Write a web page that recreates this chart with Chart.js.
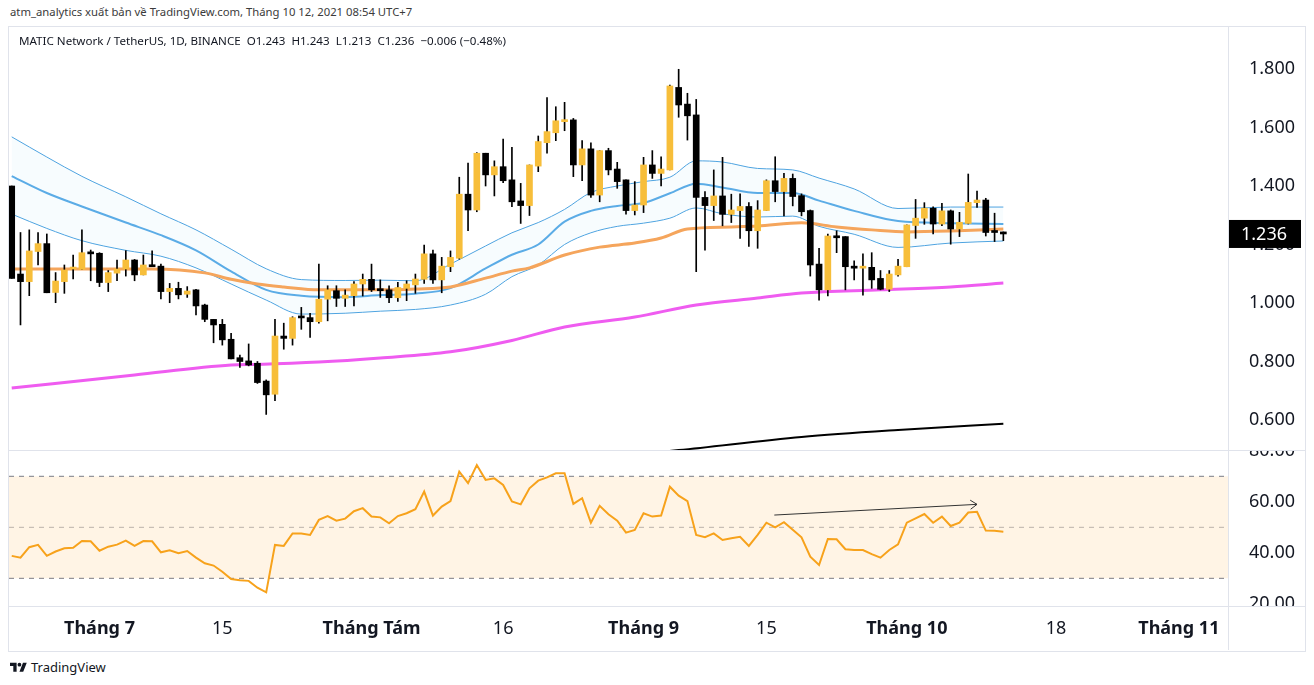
<!DOCTYPE html>
<html>
<head>
<meta charset="utf-8">
<script src="https://cdn.jsdelivr.net/npm/chart.js@4.4.1/dist/chart.umd.min.js"></script>
<style>
  body { margin: 0; background: #fff; width: 1314px; height: 685px; position: relative; overflow: hidden; font-family: "Noto Sans", sans-serif; color: #131722; }
  .abs { position: absolute; }
  #hdr { left: 10px; top: 4px; font-size: 11.3px; color: #3b3b3b; white-space: nowrap; }
  #frame { left: 8px; top: 26px; width: 1296px; height: 624px; border: 1px solid #e0e3eb; }
  #legend { left: 19px; top: 33px; font-size: 11.6px; white-space: nowrap; }
  .hline { height: 1px; background: #e0e3eb; }
  .vline { width: 1px; background: #e0e3eb; }
  #foot { left: 10px; top: 658px; font-size: 13px; display: flex; align-items: center; gap: 4px; }
</style>
</head>
<body>
<div id="hdr" class="abs">atm_analytics xuất bản về TradingView.com, Tháng 10 12, 2021 08:54 UTC+7</div>
<div id="frame" class="abs"></div>
<canvas id="price" class="abs" width="1296" height="423" style="left:9px;top:27px"></canvas>
<canvas id="rsi" class="abs" width="1296" height="199" style="left:9px;top:451px"></canvas>
<div class="abs hline" style="left:9px;top:450px;width:1296px"></div>
<div class="abs hline" style="left:9px;top:606px;width:1296px"></div>
<div class="abs vline" style="left:1228px;top:27px;height:623px"></div>
<div class="abs" style="left:1229px;top:607px;width:76px;height:43px;background:#fff"></div>
<div id="legend" class="abs">MATIC Network / TetherUS, 1D, BINANCE&nbsp; O1.243&nbsp; H1.243&nbsp; L1.213&nbsp; C1.236&nbsp; −0.006 (−0.48%)</div>
<div id="foot" class="abs">
  <svg width="17" height="12" viewBox="0 0 36 24"><path d="M14 22H7V10H0V3h14v19zM28 22h-8l7.5-19h8L28 22z" fill="#131722"/><circle cx="20" cy="7" r="4" fill="#131722"/></svg>
  <span>TradingView</span>
</div>

<script>
// daily candles, index 0 = 21 Jun 2021 ... 113 = 12 Oct 2021
const openP = [1.400,1.099,1.073,1.176,1.203,1.036,1.073,1.116,1.115,1.172,
  1.170,1.070,1.102,1.116,1.147,1.096,1.128,1.126,1.039,1.050,
  1.030,1.045,0.993,0.944,0.927,0.876,0.813,0.802,0.794,0.733,
  0.688,0.887,0.879,0.951,0.950,0.936,1.013,1.042,1.016,1.025,
  1.065,1.081,1.047,1.045,1.018,1.050,1.062,1.081,1.168,1.079,
  1.124,1.153,1.372,1.318,1.512,1.438,1.466,1.421,1.349,1.333,
  1.468,1.548,1.582,1.620,1.626,1.472,1.527,1.369,1.521,1.458,
  1.421,1.316,1.335,1.472,1.443,1.455,1.737,1.680,1.643,1.361,
  1.333,1.366,1.303,1.316,1.330,1.247,1.316,1.418,1.381,1.426,
  1.367,1.316,1.133,1.045,1.229,1.227,1.126,1.119,1.122,1.084,
  1.047,1.096,1.124,1.265,1.290,1.324,1.270,1.315,1.253,1.272,
  1.343,1.352,1.244,1.243];
const highP = [1.400,1.241,1.250,1.241,1.236,1.104,1.130,1.164,1.250,1.181,
  1.172,1.111,1.147,1.179,1.149,1.164,1.178,1.133,1.067,1.071,
  1.056,1.047,0.996,0.944,0.944,0.896,0.822,0.860,0.800,0.737,
  0.944,0.931,0.953,0.985,0.965,1.133,1.059,1.059,1.045,1.073,
  1.099,1.133,1.079,1.059,1.071,1.076,1.099,1.198,1.181,1.156,
  1.178,1.430,1.478,1.514,1.512,1.486,1.560,1.532,1.409,1.472,
  1.571,1.702,1.671,1.686,1.631,1.555,1.548,1.521,1.529,1.481,
  1.421,1.415,1.498,1.521,1.500,1.745,1.799,1.717,1.696,1.381,
  1.455,1.498,1.372,1.373,1.343,1.350,1.421,1.500,1.443,1.441,
  1.373,1.318,1.187,1.236,1.247,1.227,1.144,1.168,1.172,1.111,
  1.111,1.149,1.267,1.354,1.343,1.329,1.341,1.318,1.310,1.441,
  1.383,1.358,1.307,1.243];
const lowP = [1.084,0.925,1.025,1.130,1.035,1.001,1.033,1.082,1.115,1.076,
  1.056,1.039,1.076,1.092,1.076,1.096,1.124,1.014,1.001,1.014,
  1.019,0.959,0.936,0.864,0.856,0.809,0.780,0.785,0.725,0.619,
  0.666,0.842,0.856,0.910,0.882,0.931,0.939,0.988,0.988,0.990,
  1.024,1.039,1.019,1.001,1.005,1.008,1.033,1.067,1.067,1.035,
  1.107,1.150,1.247,1.312,1.400,1.366,1.411,1.329,1.272,1.299,
  1.449,1.512,1.555,1.589,1.432,1.418,1.361,1.346,1.438,1.392,
  1.304,1.301,1.309,1.426,1.400,1.455,1.635,1.557,1.107,1.181,
  1.282,1.264,1.275,1.221,1.193,1.187,1.316,1.346,1.298,1.332,
  1.298,1.092,1.010,1.024,1.172,1.045,1.079,1.027,1.050,1.045,
  1.039,1.092,1.124,1.221,1.269,1.236,1.264,1.201,1.227,1.270,
  1.327,1.229,1.210,1.213];
const closeP = [1.084,1.073,1.178,1.203,1.035,1.075,1.113,1.117,1.172,1.168,
  1.070,1.104,1.116,1.147,1.096,1.130,1.124,1.039,1.050,1.028,
  1.041,0.990,0.944,0.925,0.874,0.809,0.800,0.788,0.728,0.686,
  0.887,0.879,0.950,0.949,0.936,1.013,1.045,1.016,1.027,1.065,
  1.081,1.045,1.042,1.018,1.053,1.065,1.082,1.168,1.079,1.126,
  1.156,1.372,1.318,1.512,1.438,1.466,1.418,1.346,1.333,1.472,
  1.552,1.586,1.623,1.626,1.472,1.527,1.369,1.521,1.455,1.415,
  1.316,1.335,1.472,1.443,1.458,1.742,1.677,1.640,1.361,1.333,
  1.366,1.303,1.318,1.330,1.247,1.318,1.418,1.381,1.426,1.364,
  1.312,1.130,1.045,1.229,1.223,1.124,1.119,1.122,1.079,1.047,
  1.099,1.126,1.267,1.290,1.324,1.270,1.315,1.253,1.276,1.344,
  1.352,1.241,1.241,1.236];

// channel lines (upper / middle / lower), read at these candle indices
const bandIdx = [0,4,8,13,17,21,25,29,33,38,42,46,50,54,57,60,63,66,69,72,75,78,81,85,89,92,96,101,107,113];
const bandUpper = [1.568,1.499,1.433,1.363,1.305,1.250,1.184,1.117,1.080,1.077,1.078,1.076,1.133,1.195,1.240,1.275,1.320,1.378,1.400,1.415,1.430,1.486,1.482,1.460,1.455,1.427,1.390,1.323,1.328,1.328];
const bandMid = [1.434,1.376,1.330,1.275,1.232,1.180,1.108,1.045,1.025,1.020,1.027,1.032,1.051,1.118,1.165,1.200,1.278,1.315,1.332,1.342,1.375,1.408,1.395,1.376,1.376,1.350,1.315,1.280,1.273,1.270];
const bandLower = [1.304,1.255,1.213,1.180,1.160,1.120,1.065,1.010,0.962,0.965,0.972,0.978,0.993,1.030,1.090,1.130,1.200,1.240,1.262,1.273,1.290,1.325,1.305,1.294,1.297,1.262,1.235,1.190,1.205,1.212];

// moving averages
const maOrangeIdx = [0,10,16,22,25,28,31,35,39,42,46,50,54,57,59,63,67,71,74,77,82,85,90,94,98,102,107,113];
const maOrange = [1.116,1.116,1.116,1.103,1.081,1.065,1.055,1.045,1.045,1.045,1.048,1.055,1.085,1.109,1.120,1.164,1.191,1.205,1.222,1.253,1.260,1.263,1.274,1.260,1.250,1.243,1.246,1.253];
const maPinkIdx = [0,14,25,28,35,42,50,57,63,71,78,85,90,99,107,113];
const maPink = [0.709,0.754,0.788,0.790,0.798,0.812,0.833,0.872,0.918,0.952,0.993,1.017,1.034,1.045,1.055,1.068];
const maBlackIdx = [70,76,90,101,113];
const maBlack = [0.480,0.497,0.542,0.566,0.587];

// RSI, one value per candle
const rsi = [38.8,38.1,42.2,43.1,38.8,40.5,41.8,42.0,44.6,44.5,
  40.8,42.4,43.2,44.8,42.7,44.6,44.5,40.2,41.0,39.8,
  40.7,38.1,35.9,35.0,32.6,29.7,29.2,29.0,26.3,24.5,
  43.1,42.7,47.6,47.6,47.0,52.9,54.4,52.6,53.4,56.3,
  57.5,54.2,53.9,51.6,54.4,55.5,57.1,64.0,54.6,58.1,
  60.3,71.8,67.3,74.4,68.6,69.2,66.6,60.1,59.0,65.3,
  68.3,69.6,71.2,71.2,59.2,61.4,51.8,58.4,55.1,52.6,
  47.9,49.0,55.5,54.2,54.6,65.9,62.4,60.3,47.0,46.1,
  47.6,45.0,45.7,46.3,42.7,47.0,51.8,50.0,52.0,49.0,
  46.1,38.5,35.2,45.4,45.3,41.4,41.1,41.1,39.5,38.1,
  41.1,43.3,51.8,53.5,55.2,51.8,54.2,50.5,51.8,55.8,
  56.1,48.7,48.6,48.3];
const rsiLevels = [70, 50, 30];
const trendIdx = [86.9, 110];
const trendVal = [54.8, 59.0];

// axis labels
const xTickIdx = [10, 24, 41, 56, 72, 86, 102, 119, 133];
const xTickLabels = ["Tháng 7", "15", "Tháng Tám", "16", "Tháng 9", "15", "Tháng 10", "18", "Tháng 11"];
const xTickBold = [true, false, true, false, true, false, true, false, true];
const priceTicks = [0.6, 0.8, 1.0, 1.2, 1.4, 1.6, 1.8];
const rsiTicks = [20, 40, 60, 80];

const X_MIN = -0.31, X_MAX = 138.6;
const FONT = "Noto Sans";
const UP = "#f7be3a", DOWN = "#000000";

const idx = openP.map((_, i) => i);
const pts = (xs, ys) => xs.map((x, k) => ({ x: x, y: ys[k] }));
const candleColor = idx.map(i => closeP[i] >= openP[i] ? UP : DOWN);

function lineDs(data, color, width, order, extra) {
  return Object.assign({
    type: "line", data: data, borderColor: color, borderWidth: width,
    pointRadius: 0, cubicInterpolationMode: "monotone", fill: false, order: order
  }, extra || {});
}

const lastPricePlugin = {
  id: "lastPrice",
  afterDraw(chart) {
    const ctx = chart.ctx, y = chart.scales.y.getPixelForValue(closeP[closeP.length - 1]);
    const x0 = chart.chartArea.right + 1;
    ctx.save();
    ctx.fillStyle = "#000";
    ctx.fillRect(x0, y - 14, 72, 28);
    ctx.fillStyle = "#fff";
    ctx.font = "18px " + FONT;
    ctx.textBaseline = "middle";
    ctx.fillText(closeP[closeP.length - 1].toFixed(3), x0 + 12, y + 1);
    ctx.restore();
  }
};

new Chart(document.getElementById("price"), {
  type: "bar",
  data: {
    datasets: [
      { type: "bar", data: idx.map(i => ({ x: i, y: [lowP[i], highP[i]] })), backgroundColor: "#000", barThickness: 1, grouped: false, order: 1 },
      { type: "bar", data: idx.map(i => ({ x: i, y: [openP[i], closeP[i]] })), backgroundColor: candleColor, barThickness: 6, minBarLength: 2, grouped: false, order: 0 },
      lineDs(pts(bandIdx, bandUpper), "#4ea3e0", 1, 3, { fill: { target: 4 }, backgroundColor: "rgba(120, 200, 240, 0.06)" }),
      lineDs(pts(bandIdx, bandMid), "#5aaae6", 2, 3),
      lineDs(pts(bandIdx, bandLower), "#4ea3e0", 1, 3),
      lineDs(pts(maOrangeIdx, maOrange), "#f5a55c", 3, 2),
      lineDs(pts(maPinkIdx, maPink), "#ef5cf0", 3, 2),
      lineDs(pts(maBlackIdx, maBlack), "#000000", 2, 2)
    ]
  },
  options: {
    responsive: false,
    animation: false,
    events: [],
    layout: { padding: 0 },
    plugins: { legend: { display: false }, tooltip: { enabled: false } },
    scales: {
      x: { type: "linear", min: X_MIN, max: X_MAX, offset: false, display: false },
      y: {
        position: "right", min: 0.4974, max: 1.9436, beginAtZero: false,
        grid: { display: false }, border: { display: false },
        afterBuildTicks: s => { s.ticks = priceTicks.map(v => ({ value: v })); },
        afterFit: s => { s.width = 77; s.paddingTop = 0; s.paddingBottom = 0; },
        ticks: { padding: 13, color: "#131722", font: { family: FONT, size: 18 }, callback: v => v.toFixed(3) }
      }
    }
  },
  plugins: [lastPricePlugin]
});

const arrowPlugin = {
  id: "arrowHead",
  afterDatasetsDraw(chart) {
    const el = chart.getDatasetMeta(4).data;
    const a = el[el.length - 2], b = el[el.length - 1];
    const ang = Math.atan2(b.y - a.y, b.x - a.x), len = 8, spread = 0.6;
    const ctx = chart.ctx;
    ctx.save();
    ctx.strokeStyle = "#333";
    ctx.lineWidth = 1;
    ctx.beginPath();
    ctx.moveTo(b.x - len * Math.cos(ang - spread), b.y - len * Math.sin(ang - spread));
    ctx.lineTo(b.x, b.y);
    ctx.lineTo(b.x - len * Math.cos(ang + spread), b.y - len * Math.sin(ang + spread));
    ctx.stroke();
    ctx.restore();
  }
};

const levelLine = (v, color, extra) => Object.assign({
  data: [{ x: X_MIN, y: v }, { x: X_MAX, y: v }], borderColor: color, borderWidth: 1,
  borderDash: [5, 5], pointRadius: 0, fill: false, order: 5
}, extra || {});

new Chart(document.getElementById("rsi"), {
  type: "line",
  data: {
    datasets: [
      { data: pts(idx, rsi), borderColor: "#f7a21b", borderWidth: 2, pointRadius: 0, fill: false, order: 0 },
      levelLine(rsiLevels[0], "#787b86", { fill: { target: 3 }, backgroundColor: "rgba(255, 152, 0, 0.1)" }),
      levelLine(rsiLevels[1], "#b2b5be"),
      levelLine(rsiLevels[2], "#787b86"),
      { data: pts(trendIdx, trendVal), borderColor: "#333", borderWidth: 1, pointRadius: 0, fill: false, order: 0 }
    ]
  },
  options: {
    responsive: false,
    animation: false,
    events: [],
    layout: { padding: 0 },
    plugins: { legend: { display: false }, tooltip: { enabled: false } },
    scales: {
      x: {
        type: "linear", min: X_MIN, max: X_MAX,
        grid: { display: false }, border: { display: false },
        afterBuildTicks: s => { s.ticks = xTickIdx.map(v => ({ value: v })); },
        afterFit: s => { s.height = 44; s.paddingLeft = 0; s.paddingRight = 0; },
        ticks: {
          autoSkip: false, maxRotation: 0, padding: 4, color: "#131722",
          font: c => ({ family: FONT, size: 18, weight: xTickBold[c.index] ? "bold" : "normal" }),
          callback: (v, i) => xTickLabels[i]
        }
      },
      y: {
        position: "right", min: 19.14, max: 79.92,
        grid: { display: false }, border: { display: false },
        afterBuildTicks: s => { s.ticks = rsiTicks.map(v => ({ value: v })); },
        afterFit: s => { s.width = 77; s.paddingTop = 0; s.paddingBottom = 0; },
        ticks: { padding: 13, color: "#131722", font: { family: FONT, size: 18 }, callback: v => v.toFixed(2) }
      }
    }
  },
  plugins: [arrowPlugin]
});
</script>
</body>
</html>
